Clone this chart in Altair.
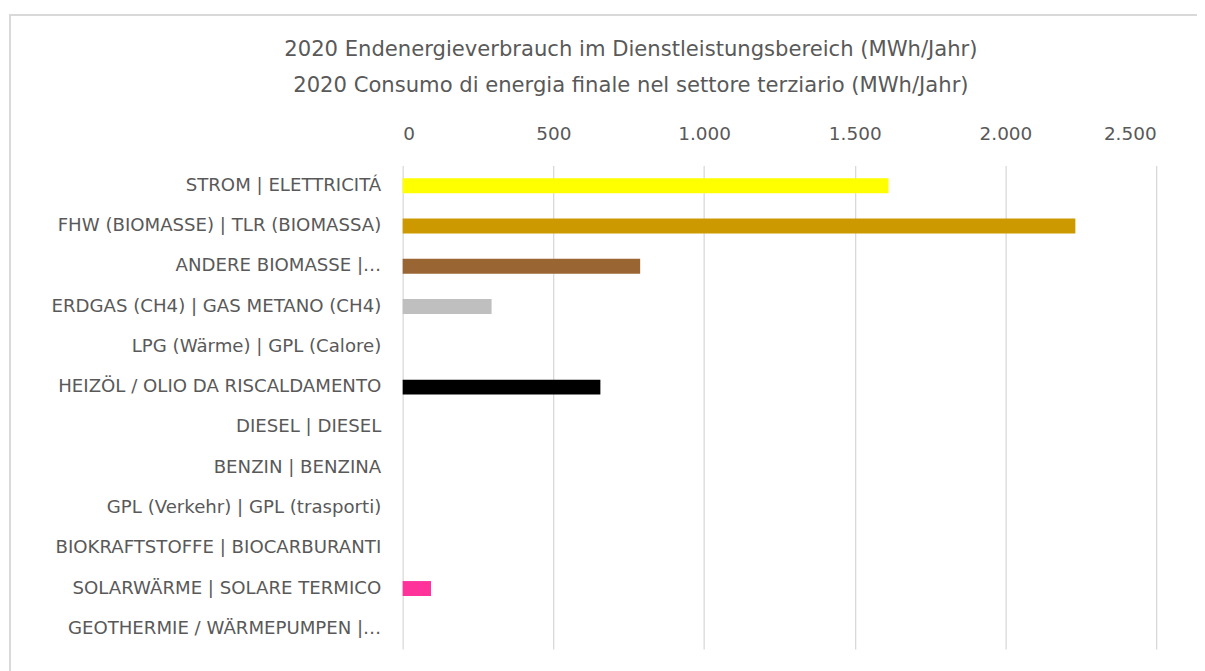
import altair as alt
import pandas as pd

categories = [
    "STROM | ELETTRICITÁ",
    "FHW (BIOMASSE) | TLR (BIOMASSA)",
    "ANDERE BIOMASSE |…",
    "ERDGAS (CH4) | GAS METANO (CH4)",
    "LPG (Wärme) | GPL (Calore)",
    "HEIZÖL / OLIO DA RISCALDAMENTO",
    "DIESEL | DIESEL",
    "BENZIN | BENZINA",
    "GPL (Verkehr) | GPL (trasporti)",
    "BIOKRAFTSTOFFE | BIOCARBURANTI",
    "SOLARWÄRME | SOLARE TERMICO",
    "GEOTHERMIE / WÄRMEPUMPEN |…",
]
values = [1612, 2232, 788, 295, 0, 656, 0, 0, 0, 0, 94, 0]
colors = ["#FFFF00", "#CC9900", "#996633", "#BFBFBF", "#A5A5A5", "#000000",
          "#7F7F7F", "#7F7F7F", "#7F7F7F", "#7F7F7F", "#FF3399", "#7F7F7F"]
tick_values = [0, 500, 1000, 1500, 2000, 2500]
title_lines = [
    "2020 Endenergieverbrauch im Dienstleistungsbereich (MWh/Jahr)",
    "2020 Consumo di energia finale nel settore terziario  (MWh/Jahr)",
]

df = pd.DataFrame({"cat": categories, "val": values, "col": colors})

FONT = "DejaVu Sans"
TXT = "#595959"

bars = alt.Chart(df).mark_bar(size=15).encode(
    x=alt.X("val:Q",
            scale=alt.Scale(domain=[0, 2500], nice=False),
            axis=alt.Axis(orient="top", values=tick_values, title=None,
                          labelExpr="replace(format(datum.value, ',.0f'), ',', '.')",
                          grid=True, gridColor="#D9D9D9", gridWidth=1.3,
                          domain=False, ticks=False, labelPadding=22,
                          labelFontSize=18.5, labelColor=TXT, labelFont=FONT)),
    y=alt.Y("cat:N", sort=categories,
            scale=alt.Scale(paddingInner=0, paddingOuter=0),
            axis=alt.Axis(title=None, domain=False, ticks=False,
                          labelPadding=22, labelFontSize=18.2, labelColor=TXT,
                          labelFont=FONT, labelLimit=400)),
    color=alt.Color("col:N", scale=None, legend=None),
)

# chart-area frame (decoration)
frame_df = pd.DataFrame({"k": [0]})
frame_v = alt.Chart(frame_df).mark_rule(color="#D9D9D9", strokeWidth=2).encode(
    x=alt.value(-394), y=alt.value(-151), y2=alt.value(520))
frame_h = alt.Chart(frame_df).mark_rule(color="#D9D9D9", strokeWidth=2).encode(
    x=alt.value(-395), x2=alt.value(900), y=alt.value(-151))

chart = alt.layer(frame_v, frame_h, bars).properties(
    width=756,
    height=485,
    autosize=alt.AutoSizeParams(type="none"),
    padding={"left": 396, "top": 157, "right": 41, "bottom": 21},
    background="white",
    title=alt.TitleParams(title_lines, anchor="middle", frame="group",
                          dx=-149, fontSize=21.2, font=FONT, fontWeight="normal",
                          color=TXT, lineHeight=36, offset=-82),
).configure_view(stroke=None)

chart.save("out.html", embed_options={"renderer": "svg", "actions": False})
